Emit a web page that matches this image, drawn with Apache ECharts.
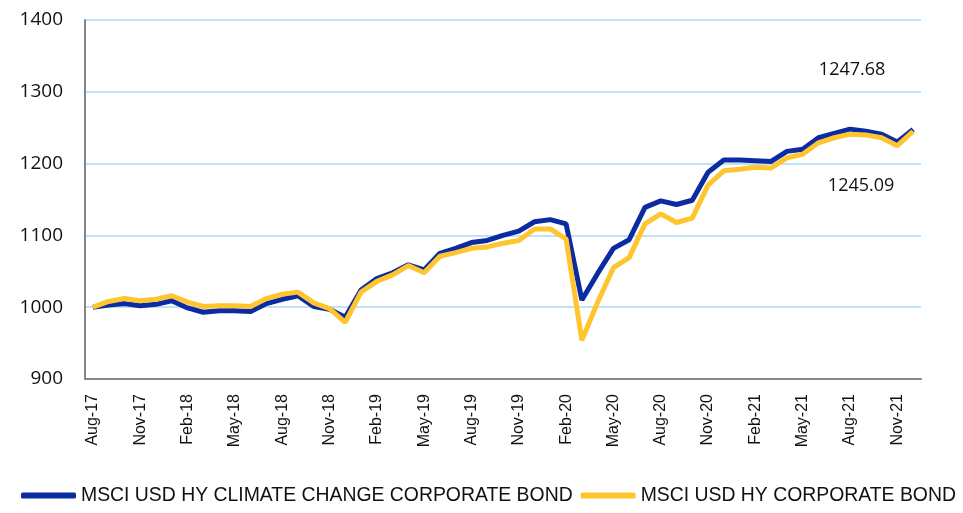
<!DOCTYPE html>
<html>
<head>
<meta charset="utf-8">
<script src="https://cdn.jsdelivr.net/npm/echarts@6/dist/echarts.min.js"></script>
<style>
  html, body { margin: 0; padding: 0; background: #fff; }
  #main { width: 963px; height: 513px; }
</style>
</head>
<body>
<div id="main"></div>
<script>
// monthly, Aug-17 .. Dec-21
var months = ['Aug-17','Sep-17','Oct-17','Nov-17','Dec-17',
  'Jan-18','Feb-18','Mar-18','Apr-18','May-18','Jun-18','Jul-18','Aug-18','Sep-18','Oct-18','Nov-18','Dec-18',
  'Jan-19','Feb-19','Mar-19','Apr-19','May-19','Jun-19','Jul-19','Aug-19','Sep-19','Oct-19','Nov-19','Dec-19',
  'Jan-20','Feb-20','Mar-20','Apr-20','May-20','Jun-20','Jul-20','Aug-20','Sep-20','Oct-20','Nov-20','Dec-20',
  'Jan-21','Feb-21','Mar-21','Apr-21','May-21','Jun-21','Jul-21','Aug-21','Sep-21','Oct-21','Nov-21','Dec-21'];

var climate = [1000, 1003, 1005, 1002, 1004,
  1009, 999, 993, 995, 995, 994, 1005, 1011, 1016, 1001, 997, 986,
  1024, 1040, 1048, 1059, 1052, 1075, 1082, 1090, 1093, 1100, 1106, 1119,
  1122, 1116, 1010, 1047, 1082, 1094, 1139, 1148, 1143, 1149, 1188, 1205,
  1205, 1204, 1203, 1217, 1220, 1236, 1242, 1248, 1245, 1241, 1230, 1247.68];

var corporate = [1000, 1008, 1012, 1009, 1011,
  1016, 1007, 1001, 1002, 1002, 1001, 1012, 1018, 1021, 1006, 998, 979,
  1021, 1036, 1045, 1058, 1048, 1071, 1076, 1082, 1084, 1089, 1093, 1109,
  1109, 1095, 954, 1007, 1055, 1069, 1116, 1130, 1118, 1124, 1170, 1190,
  1192, 1195, 1194, 1208, 1213, 1229, 1236, 1241, 1240, 1236, 1225, 1245.09];

var seriesNames = ['MSCI USD HY CLIMATE CHANGE CORPORATE BOND', 'MSCI USD HY CORPORATE BOND'];

var myChart = echarts.init(document.getElementById('main'));

var option = {
    animation: false,
    grid: { left: 85, right: 42, top: 20, bottom: 134 },
    legend: {
        bottom: 3,
        left: 16,
        width: 947,
        itemWidth: 55,
        itemHeight: 6,
        itemGap: 8,
        icon: 'roundRect',
        textStyle: { fontFamily: 'Liberation Sans, sans-serif', fontSize: 19.4, color: '#111' },
        data: seriesNames
    },
    xAxis: {
        type: 'category',
        data: months,
        boundaryGap: true,
        axisLine: { lineStyle: { color: '#868686', width: 2 } },
        axisTick: { interval: 2, length: 6, lineStyle: { color: '#868686', width: 2 } },
        axisLabel: {
            interval: 2,
            rotate: 90,
            margin: 15,
            fontFamily: 'Liberation Sans, Arial, sans-serif',
            fontSize: 16,
            color: '#111'
        },
        splitLine: { show: false }
    },
    yAxis: {
        type: 'value',
        min: 900,
        max: 1400,
        interval: 100,
        axisLine: { show: true, lineStyle: { color: '#868686', width: 2 } },
        axisTick: { show: false },
        axisLabel: {
            formatter: function (v) { return String(v); },
            fontFamily: 'Open Sans, Liberation Sans, sans-serif',
            fontSize: 19,
            color: '#111',
            margin: 22
        },
        splitLine: { lineStyle: { color: '#bfe2f7', width: 2 } }
    },
    series: [
        {
            name: seriesNames[0],
            type: 'line',
            data: climate,
            showSymbol: false,
            color: '#0b2ba2',
            lineStyle: { width: 5, color: '#0b2ba2' },
            endLabel: {
                show: true,
                formatter: function (p) { return p.value.toFixed(2); },
                fontFamily: 'Open Sans, Liberation Sans, sans-serif',
                fontSize: 18,
                color: '#111',
                align: 'center',
                verticalAlign: 'middle',
                distance: 0,
                offset: [-61, -59]
            }
        },
        {
            name: seriesNames[1],
            type: 'line',
            data: corporate,
            showSymbol: false,
            color: '#ffc52f',
            lineStyle: { width: 5, color: '#ffc52f' },
            endLabel: {
                show: true,
                formatter: function (p) { return p.value.toFixed(2); },
                fontFamily: 'Open Sans, Liberation Sans, sans-serif',
                fontSize: 18,
                color: '#111',
                align: 'center',
                verticalAlign: 'middle',
                distance: 0,
                offset: [-52, 55]
            }
        }
    ]
};
myChart.setOption(option);
</script>
</body>
</html>
